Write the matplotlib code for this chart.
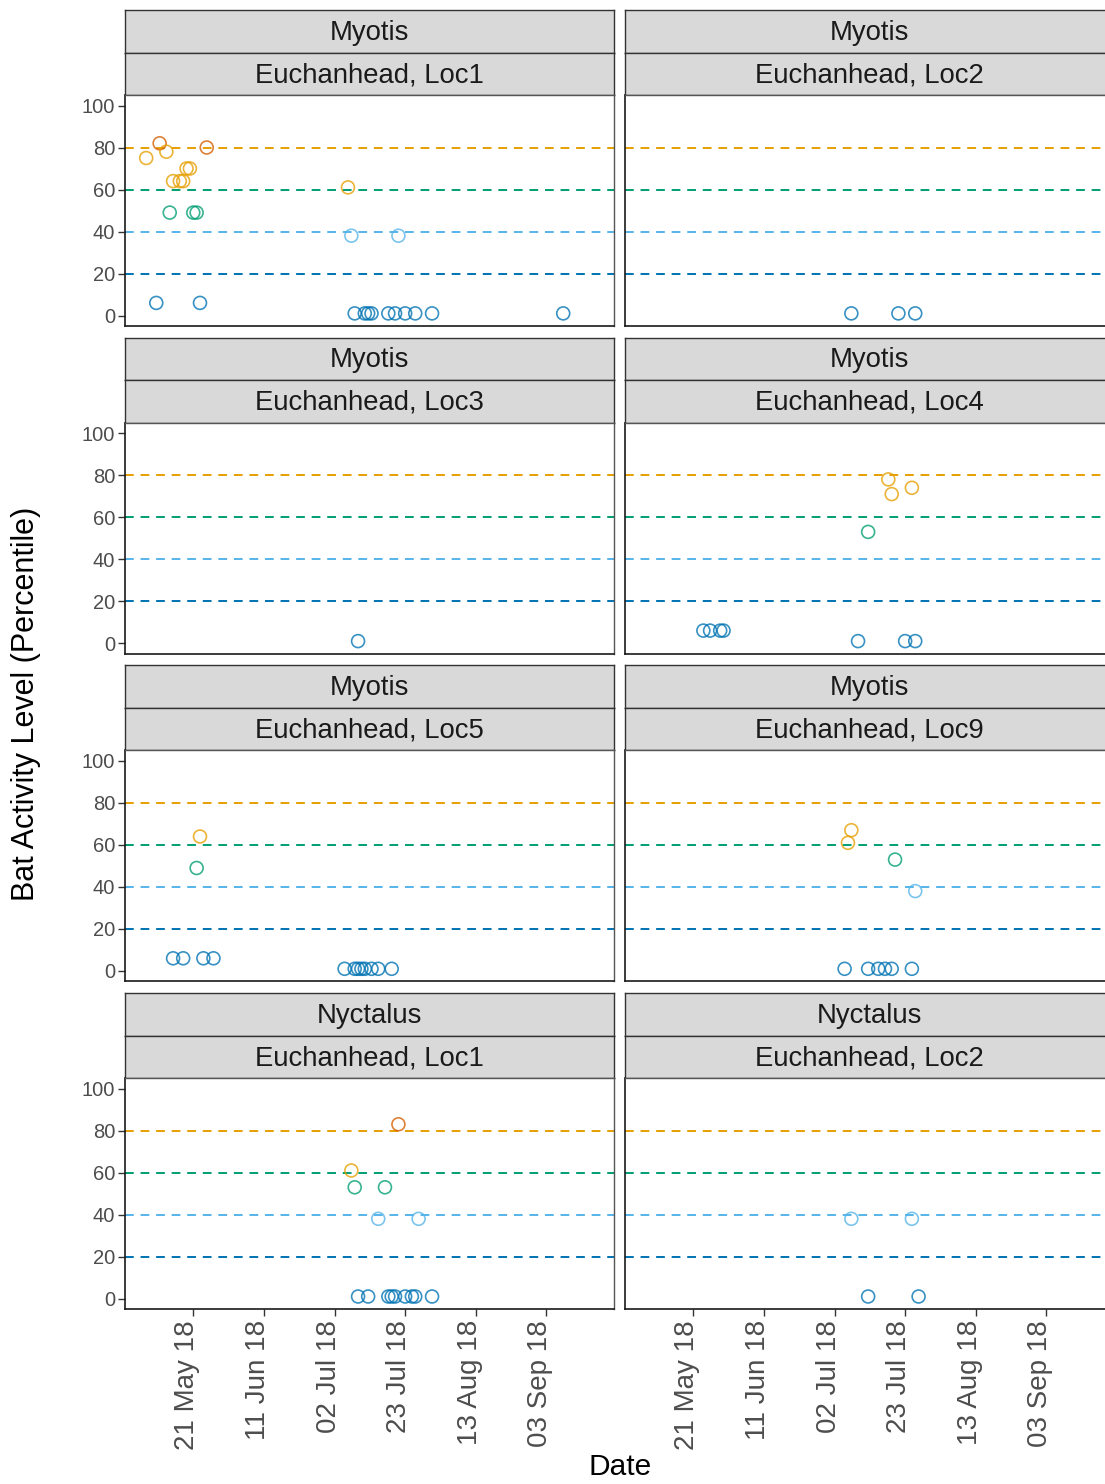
import matplotlib
matplotlib.use('Agg')
import matplotlib.pyplot as plt
import matplotlib.dates as mdates
import matplotlib.transforms as mtransforms
import pandas as pd

plt.rcParams['font.family'] = ['Liberation Sans', 'DejaVu Sans']

W, H = 1105, 1484

# ---------------- data ----------------
species = ['Myotis', 'Myotis', 'Myotis', 'Myotis', 'Myotis', 'Myotis', 'Nyctalus', 'Nyctalus']
locations = ['Euchanhead, Loc1', 'Euchanhead, Loc2', 'Euchanhead, Loc3', 'Euchanhead, Loc4',
             'Euchanhead, Loc5', 'Euchanhead, Loc9', 'Euchanhead, Loc1', 'Euchanhead, Loc2']

dates_myo_loc1 = ['2018-05-07', '2018-05-11', '2018-05-13', '2018-05-15', '2018-05-17', '2018-05-18',
                  '2018-05-19', '2018-05-20', '2018-05-14', '2018-05-21', '2018-05-22', '2018-05-25',
                  '2018-05-10', '2018-05-23', '2018-07-06', '2018-07-07', '2018-07-21',
                  '2018-07-08', '2018-07-11', '2018-07-12', '2018-07-13', '2018-07-18', '2018-07-20',
                  '2018-07-23', '2018-07-26', '2018-07-31', '2018-09-08']
vals_myo_loc1 = [75, 82, 78, 64, 64, 64, 70, 70, 49, 49, 49, 80, 6, 6, 61, 38, 38,
                 1, 1, 1, 1, 1, 1, 1, 1, 1, 1]

dates_myo_loc2 = ['2018-07-07', '2018-07-21', '2018-07-26']
vals_myo_loc2 = [1, 1, 1]

dates_myo_loc3 = ['2018-07-09']
vals_myo_loc3 = [1]

dates_myo_loc4 = ['2018-07-18', '2018-07-19', '2018-07-25', '2018-07-12',
                  '2018-05-24', '2018-05-26', '2018-05-29', '2018-05-30',
                  '2018-07-09', '2018-07-23', '2018-07-26']
vals_myo_loc4 = [78, 71, 74, 53, 6, 6, 6, 6, 1, 1, 1]

dates_myo_loc5 = ['2018-05-23', '2018-05-22', '2018-05-15', '2018-05-18', '2018-05-24', '2018-05-27',
                  '2018-07-05', '2018-07-08', '2018-07-09', '2018-07-10', '2018-07-11', '2018-07-13',
                  '2018-07-15', '2018-07-19']
vals_myo_loc5 = [64, 49, 6, 6, 6, 6, 1, 1, 1, 1, 1, 1, 1, 1]

dates_myo_loc9 = ['2018-07-07', '2018-07-06', '2018-07-20', '2018-07-26',
                  '2018-07-05', '2018-07-12', '2018-07-15', '2018-07-17', '2018-07-19', '2018-07-25']
vals_myo_loc9 = [67, 61, 53, 38, 1, 1, 1, 1, 1, 1]

dates_nyc_loc1 = ['2018-07-21', '2018-07-07', '2018-07-08', '2018-07-17', '2018-07-15', '2018-07-27',
                  '2018-07-09', '2018-07-12', '2018-07-18', '2018-07-19', '2018-07-20', '2018-07-23',
                  '2018-07-25', '2018-07-26', '2018-07-31']
vals_nyc_loc1 = [83, 61, 53, 53, 38, 38, 1, 1, 1, 1, 1, 1, 1, 1, 1]

dates_nyc_loc2 = ['2018-07-07', '2018-07-25', '2018-07-12', '2018-07-27']
vals_nyc_loc2 = [38, 38, 1, 1]

panel_dates = [dates_myo_loc1, dates_myo_loc2, dates_myo_loc3, dates_myo_loc4,
               dates_myo_loc5, dates_myo_loc9, dates_nyc_loc1, dates_nyc_loc2]
panel_vals = [vals_myo_loc1, vals_myo_loc2, vals_myo_loc3, vals_myo_loc4,
              vals_myo_loc5, vals_myo_loc9, vals_nyc_loc1, vals_nyc_loc2]

thresholds = [80, 60, 40, 20]
threshold_colors = ['#E69F00', '#009E73', '#56B4E9', '#0072B2']
yticks = [0, 20, 40, 60, 80, 100]
xtick_dates = ['2018-05-21', '2018-06-11', '2018-07-02', '2018-07-23', '2018-08-13', '2018-09-03']


def level_color(v):
    if v >= 80:
        return '#D55E00'
    if v >= 60:
        return '#E69F00'
    if v >= 40:
        return '#009E73'
    if v >= 20:
        return '#56B4E9'
    return '#0072B2'


# ---------------- layout ----------------
fig = plt.figure(figsize=(W / 100, H / 100), dpi=100)

col_x = [(125, 614), (625, 1114)]
row_tops = [10 + i * 327.7 for i in range(4)]
strip_h = 42.5

ref = pd.Timestamp('2018-05-21')
xlim = (mdates.date2num(ref - pd.Timedelta(days=20.3)), mdates.date2num(ref + pd.Timedelta(days=125.1)))


def fig_rect(x0, y0, x1, y1):
    return [x0 / W, 1 - y1 / H, (x1 - x0) / W, (y1 - y0) / H]


label_shift = mtransforms.ScaledTranslation(-6 / 100, 0, fig.dpi_scale_trans)

for i in range(8):
    r, c = divmod(i, 2)
    x0, x1 = col_x[c]
    top = row_tops[r]
    # strips
    for k, label in enumerate([species[i], locations[i]]):
        sa = fig.add_axes(fig_rect(x0, top + k * strip_h, x1, top + (k + 1) * strip_h))
        sa.set_facecolor('#D9D9D9')
        sa.set_xticks([])
        sa.set_yticks([])
        for s in sa.spines.values():
            s.set_color('#333333')
            s.set_linewidth(1.0)
        sa.text(0.5, 0.47, label, ha='center', va='center', fontsize=19.8, color='#1A1A1A',
                transform=sa.transAxes)
    # plot area
    ax = fig.add_axes(fig_rect(x0, top + 2 * strip_h, x1, top + 2 * strip_h + 231))
    for t, tc in zip(thresholds, threshold_colors):
        ax.axhline(t, color=tc, linewidth=1.4, linestyle=(0, (4.5, 3.5)), zorder=1)
    d = pd.to_datetime(panel_dates[i])
    v = panel_vals[i]
    ax.scatter(mdates.date2num(d), v, s=9.3 ** 2, facecolors='none',
               edgecolors=[level_color(x) for x in v], linewidths=1.2, alpha=0.78, zorder=3)
    ax.set_xlim(*xlim)
    ax.set_ylim(-5, 105)
    ax.set_xticks(mdates.date2num(pd.to_datetime(xtick_dates)))
    ax.xaxis.set_major_formatter(mdates.DateFormatter('%d %b %y'))
    ax.set_yticks(yticks)
    ax.spines['left'].set_color('#1A1A1A')
    ax.spines['bottom'].set_color('#1A1A1A')
    ax.spines['left'].set_linewidth(1.2)
    ax.spines['bottom'].set_linewidth(1.2)
    ax.spines['right'].set_color('#555555')
    ax.spines['top'].set_color('#555555')
    ax.spines['right'].set_linewidth(1.0)
    ax.spines['top'].set_linewidth(1.0)
    ax.tick_params(axis='x', labelsize=20, rotation=90, length=5, width=1, color='#333333',
                   labelcolor='#4D4D4D', pad=3)
    ax.tick_params(axis='y', labelsize=14.5, length=5, width=1, color='#333333',
                   labelcolor='#4D4D4D', pad=2)
    if r != 3:
        ax.tick_params(axis='x', bottom=False, labelbottom=False)
    else:
        for lab in ax.get_xticklabels():
            lab.set_transform(lab.get_transform() + label_shift)
    if c != 0:
        ax.tick_params(axis='y', left=False, labelleft=False)

fig.text(26 / W, 1 - 704 / H, 'Bat Activity Level (Percentile)', rotation=90, ha='center', va='center',
         fontsize=22, color='black')
fig.text(620 / W, 1 - 1467 / H, 'Date', ha='center', va='center', fontsize=21.5, color='black')

fig.savefig('out.png', dpi=100, facecolor='white')
